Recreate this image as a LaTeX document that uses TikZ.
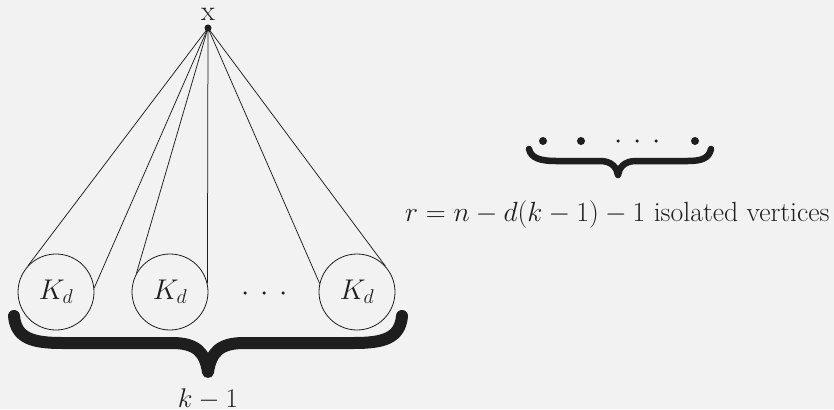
\RequirePackage{fix-cm}
\documentclass[tikz,border=0pt]{standalone}
\usepackage{tikz}
\definecolor{bg}{RGB}{242,242,242}
\definecolor{ink}{RGB}{30,30,30}
\begin{document}
\begin{tikzpicture}[x=1pt,y=-1pt,
  every node/.style={font=\fontsize{28.5}{32}\selectfont, text=ink},
  kbox/.style={circle,draw=ink,line width=0.8pt,minimum size=76pt,inner sep=0pt},
  edge/.style={draw=ink,line width=0.75pt},
  bigbrace/.style={draw=ink,line width=12pt,line cap=round,line join=round},
  smallbrace/.style={draw=ink,line width=6.5pt,line cap=round,line join=round},
  dotv/.style={circle,fill=ink,inner sep=0pt,minimum size=#1}]
\fill[bg] (0,0) rectangle (834,409);
\useasboundingbox (0,0) rectangle (834,409);
\clip (0,0) rectangle (834,409);
% top vertex
\node[dotv=7pt] (x) at (208,28) {};
\node[anchor=base,inner sep=1pt] (xl) at (208,20.5) {x};
% cliques
\node[kbox] (c1) at (56,292) {$K_d$};
\node[kbox] (c2) at (170,292) {$K_d$};
\node[kbox] (c3) at (357,292) {$K_d$};
% dots between cliques
\node[dotv=3.5pt] (d1) at (245,293) {};
\node[dotv=3.5pt] (d2) at (264,293) {};
\node[dotv=3.5pt] (d3) at (283,293) {};
% edges
\draw[edge] (x.center) -- (c1.137);
\draw[edge] (x.center) -- (c1.6);
\draw[edge] (x.center) -- (c2.151);
\draw[edge] (x.center) -- (c2.13);
\draw[edge] (x.center) -- (c3.167);
\draw[edge] (x.center) -- (c3.42);
% big brace
\draw[bigbrace] (14,316) .. controls (16,338) and (32,343) .. (62,343) -- (172,343)
  .. controls (196,343) and (205,352) .. (208,372)
  .. controls (211,352) and (220,343) .. (244,343) -- (354,343)
  .. controls (384,343) and (400,338) .. (402,316);
\node[anchor=base,inner sep=0pt,font=\fontsize{27}{30}\selectfont] (kl) at (208,407.5) {$k-1$};
% isolated vertices
\node[dotv=8pt] (v1) at (543,141) {};
\node[dotv=8pt] (v2) at (581,141) {};
\node[dotv=3.5pt] (v3) at (618,141) {};
\node[dotv=3.5pt] (v4) at (637,141) {};
\node[dotv=3.5pt] (v5) at (656,141) {};
\node[dotv=8pt] (v6) at (695,141) {};
\draw[smallbrace] (529,149) .. controls (531,158) and (540,161) .. (556,161) -- (600,161)
  .. controls (612,161) and (617,168) .. (618,175)
  .. controls (619,168) and (624,161) .. (636,161) -- (688,161)
  .. controls (702,161) and (709,158) .. (711,149);
\node[anchor=base west,inner sep=0pt,font=\fontsize{27.7}{31}\selectfont] (rl) at (405,221) {$r=n-d(k-1)-1$ isolated vertices};
\end{tikzpicture}
\end{document}
